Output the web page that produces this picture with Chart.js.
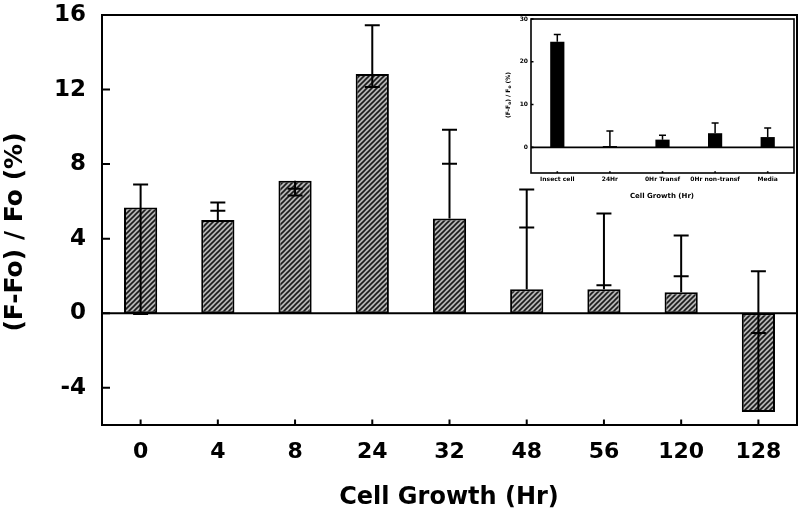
<!DOCTYPE html>
<html>
<head>
<meta charset="utf-8">
<script src="https://cdn.jsdelivr.net/npm/chart.js@4.4.1/dist/chart.umd.min.js"></script>
<style>
  html, body { margin: 0; padding: 0; background: #fff; }
  #wrap { position: relative; width: 800px; height: 514px; }
  #mainChart { position: absolute; left: 0; top: 0; }
  #insetChart { position: absolute; left: 490px; top: 0; }
</style>
</head>
<body>
<div id="wrap">
  <canvas id="mainChart" width="800" height="514"></canvas>
  <canvas id="insetChart" width="310" height="210"></canvas>
</div>
<script>
// main panel data
const hours = ['0', '4', '8', '24', '32', '48', '56', '120', '128'];
const meanValues = [5.67, 5.0, 7.11, 12.83, 5.08, 1.28, 1.28, 1.12, -5.3];
const errUpper = [6.9, 5.94, 6.68, 15.45, 9.84, 6.63, 5.35, 4.17, 2.25];
const errLower = [-0.05, 5.5, 6.31, 12.14, 8.02, 4.6, 1.5, 1.98, -1.07];
const yTicks = [-4, 0, 4, 8, 12, 16];

// inset data
const insetLabels = ['Insect cell', '24Hr', '0Hr Transf', '0Hr non-transf', 'Media'];
const insetValues = [24.7, 0.3, 1.8, 3.3, 2.4];
const insetErrUpper = [26.4, 3.8, 2.8, 5.7, 4.5];
const insetTicks = [0, 10, 20, 30];

const FONT = '"DejaVu Sans", Arial, sans-serif';

function makeHatch() {
    var c = document.createElement('canvas');
    c.width = 5; c.height = 5;
    var g = c.getContext('2d');
    g.fillStyle = '#b4b4b4';
    g.fillRect(0, 0, 5, 5);
    g.strokeStyle = '#1a1a1a';
    g.lineWidth = 1.6;
    g.beginPath();
    g.moveTo(-1, 6); g.lineTo(6, -1);
    g.moveTo(-1, 1); g.lineTo(1, -1);
    g.moveTo(4, 6); g.lineTo(6, 4);
    g.stroke();
    return g.createPattern(c, 'repeat');
}

// no automatic label padding, so the plot box sits where the layout says
function noPad(s) {
    s.paddingTop = 0; s.paddingBottom = 0;
    s.paddingLeft = 0; s.paddingRight = 0;
}

// frame, zero line, inward ticks, error bars
function framePlugin(opts) {
    return {
        id: 'frame_' + opts.name,
        afterDatasetsDraw(chart) {
            var ctx = chart.ctx;
            var a = chart.chartArea;
            var xs = chart.scales.x, ys = chart.scales.y;
            ctx.save();
            ctx.strokeStyle = '#000';
            ctx.lineCap = 'butt';
            // error bars
            var meta = chart.getDatasetMeta(0);
            ctx.lineWidth = opts.errWidth;
            for (var i = 0; i < meta.data.length; i++) {
                var x = meta.data[i].x;
                var pts = [opts.values[i], opts.upper[i]];
                if (opts.lower) pts.push(opts.lower[i]);
                var top = ys.getPixelForValue(Math.max.apply(null, pts));
                var bot = ys.getPixelForValue(Math.min.apply(null, pts));
                ctx.beginPath();
                ctx.moveTo(x, top); ctx.lineTo(x, bot);
                var caps = [opts.upper[i]];
                if (opts.lower) caps.push(opts.lower[i]);
                caps.forEach(function (v) {
                    var y = ys.getPixelForValue(v);
                    ctx.moveTo(x - opts.cap / 2, y); ctx.lineTo(x + opts.cap / 2, y);
                });
                ctx.stroke();
            }
            // zero line
            ctx.lineWidth = opts.lineWidth;
            var y0 = ys.getPixelForValue(0);
            ctx.beginPath();
            ctx.moveTo(a.left, y0); ctx.lineTo(a.right, y0);
            ctx.stroke();
            // inward ticks
            ctx.beginPath();
            opts.ticks.forEach(function (v) {
                var y = ys.getPixelForValue(v);
                ctx.moveTo(a.left, y); ctx.lineTo(a.left + opts.tickLen, y);
            });
            for (var j = 0; j < xs.ticks.length; j++) {
                var tx = xs.getPixelForTick(j);
                ctx.moveTo(tx, a.bottom); ctx.lineTo(tx, a.bottom - opts.tickLen * 0.7);
            }
            ctx.stroke();
            // box
            ctx.strokeRect(a.left, a.top, a.right - a.left, a.bottom - a.top);
            ctx.restore();
        }
    };
}

const titlePlugin = {
    id: 'mainTitles',
    afterDraw(chart) {
        var ctx = chart.ctx;
        ctx.save();
        ctx.fillStyle = '#000';
        ctx.font = 'bold 24px ' + FONT;
        ctx.textAlign = 'center';
        ctx.textBaseline = 'middle';
        ctx.fillText('Cell Growth (Hr)', 449, 498);
        ctx.translate(15, 232);
        ctx.rotate(-Math.PI / 2);
        ctx.font = 'bold 25px ' + FONT;
        ctx.fillText('(F-Fo) / Fo (%)', 0, 0);
        ctx.restore();
    }
};

const insetTitlePlugin = {
    id: 'insetTitles',
    afterDraw(chart) {
        var ctx = chart.ctx;
        ctx.save();
        ctx.fillStyle = '#000';
        ctx.font = 'bold 7px ' + FONT;
        ctx.textAlign = 'center';
        ctx.textBaseline = 'middle';
        ctx.fillText('Cell Growth (Hr)', 172, 196);
        // rotated y title with subscripts
        ctx.translate(18, 95);
        ctx.rotate(-Math.PI / 2);
        var parts = [['(F-F', false], ['o', true], [') / F', false], ['o', true], [' (%)', false]];
        var big = 'bold 6px ' + FONT, small = 'bold 4.5px ' + FONT;
        var total = 0;
        parts.forEach(function (p) { ctx.font = p[1] ? small : big; total += ctx.measureText(p[0]).width; });
        var x = -total / 2;
        ctx.textAlign = 'left';
        parts.forEach(function (p) {
            ctx.font = p[1] ? small : big;
            ctx.fillText(p[0], x, p[1] ? 2 : 0);
            x += ctx.measureText(p[0]).width;
        });
        ctx.restore();
    }
};

var hatch = makeHatch();

var mainChart = new Chart(document.getElementById('mainChart').getContext('2d'), {
    type: 'bar',
    data: {
        labels: hours,
        datasets: [{
            data: meanValues,
            backgroundColor: hatch,
            borderColor: '#000',
            borderWidth: 2,
            borderSkipped: false,
            barPercentage: 0.43,
            categoryPercentage: 1
        }]
    },
    options: {
        responsive: false,
        animation: false,
        events: [],
        layout: { padding: { left: 0, right: 3, top: 15, bottom: 0 } },
        plugins: { legend: { display: false }, tooltip: { enabled: false } },
        scales: {
            x: {
                grid: { display: false, drawTicks: false },
                border: { display: false },
                ticks: { color: '#000', font: { family: FONT, size: 22, weight: 'bold' }, padding: 14, maxRotation: 0 },
                afterFit: function (s) { s.height = 89; noPad(s); }
            },
            y: {
                min: -6,
                max: 16,
                grid: { display: false, drawTicks: false },
                border: { display: false },
                ticks: { color: '#000', font: { family: FONT, size: 23, weight: 'bold' }, padding: 16 },
                afterBuildTicks: function (s) { s.ticks = yTicks.map(function (v) { return { value: v }; }); },
                afterFit: function (s) { s.width = 102; noPad(s); }
            }
        }
    },
    plugins: [framePlugin({ name: 'main', values: meanValues, upper: errUpper, lower: errLower, ticks: yTicks, cap: 15, tickLen: 8, lineWidth: 2, errWidth: 2 }), titlePlugin]
});

var insetChart = new Chart(document.getElementById('insetChart').getContext('2d'), {
    type: 'bar',
    data: {
        labels: insetLabels,
        datasets: [{
            data: insetValues,
            backgroundColor: '#000',
            borderWidth: 0,
            barPercentage: 0.27,
            categoryPercentage: 1
        }]
    },
    options: {
        responsive: false,
        animation: false,
        events: [],
        layout: { padding: { left: 0, right: 6, top: 19, bottom: 0 } },
        plugins: { legend: { display: false }, tooltip: { enabled: false } },
        scales: {
            x: {
                grid: { display: false, drawTicks: false },
                border: { display: false },
                ticks: { color: '#000', font: { family: FONT, size: 6, weight: 'bold' }, padding: 3, maxRotation: 0, autoSkip: false },
                afterFit: function (s) { s.height = 37; noPad(s); }
            },
            y: {
                min: -6,
                max: 30,
                grid: { display: false, drawTicks: false },
                border: { display: false },
                ticks: { color: '#000', font: { family: FONT, size: 6, weight: 'bold' }, padding: 3 },
                afterBuildTicks: function (s) { s.ticks = insetTicks.map(function (v) { return { value: v }; }); },
                afterFit: function (s) { s.width = 41; noPad(s); }
            }
        }
    },
    plugins: [framePlugin({ name: 'inset', values: insetValues, upper: insetErrUpper, lower: null, ticks: insetTicks, cap: 7, tickLen: 2.5, lineWidth: 1.6, errWidth: 1.5 }), insetTitlePlugin]
});
</script>
</body>
</html>
